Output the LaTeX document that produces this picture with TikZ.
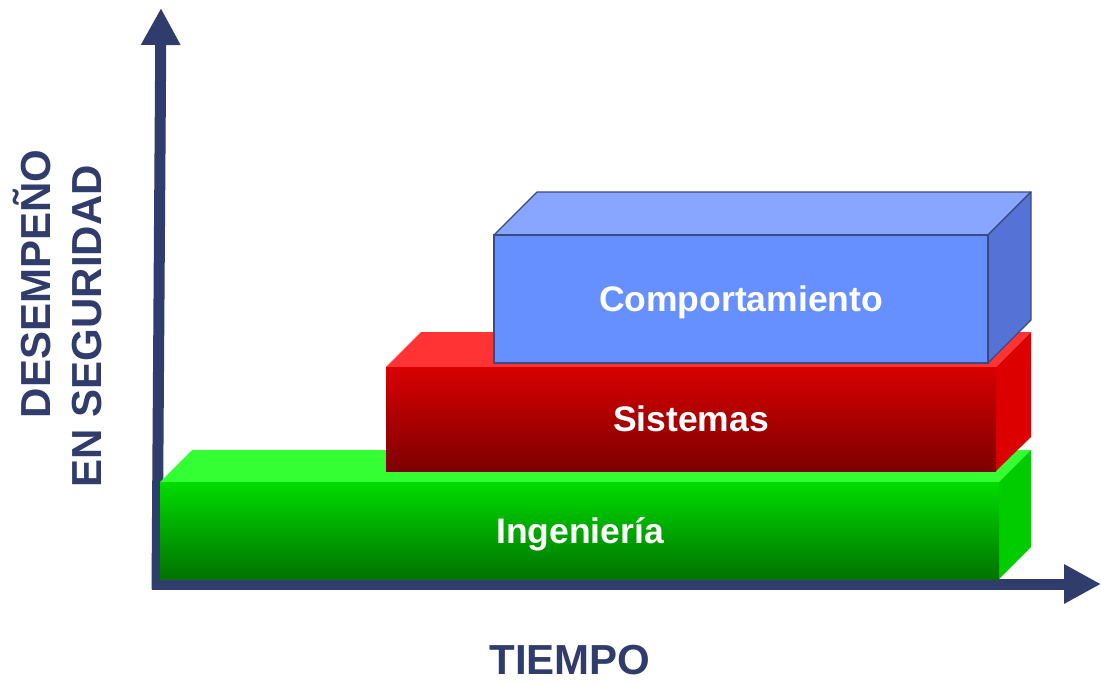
\documentclass[tikz,border=0pt]{standalone}
\usepackage{fontspec}
\setmainfont{Liberation Sans}
\usetikzlibrary{arrows.meta}
\definecolor{navy}{HTML}{2F3C6C}
\definecolor{gtop}{HTML}{33FF33}
\definecolor{gfrontA}{HTML}{00DD00}
\definecolor{gfrontB}{HTML}{007200}
\definecolor{gside}{HTML}{00CC00}
\definecolor{rtop}{HTML}{FF3333}
\definecolor{rfrontA}{HTML}{D80000}
\definecolor{rfrontB}{HTML}{7E0000}
\definecolor{rside}{HTML}{DD0000}
\definecolor{btop}{HTML}{88A6FF}
\definecolor{bfront}{HTML}{6690FF}
\definecolor{bside}{HTML}{5573D6}
\definecolor{bline}{HTML}{3A4A80}
\tikzset{
  axis/.style={draw=navy, line width=11pt, -{Triangle[length=37pt,width=37pt]}},
  boxlabel/.style={text=white, font=\bfseries\fontsize{35.5}{40}\selectfont, anchor=base, inner sep=0pt},
  axislabel/.style={text=navy, font=\bfseries\fontsize{42}{46}\selectfont, anchor=base, inner sep=0pt},
}
\begin{document}
\begin{tikzpicture}[x=1pt,y=-1pt]
\useasboundingbox (0,0) rectangle (1101,681);
% axes
\coordinate (origin) at (157,589.5);
\coordinate (ytip) at (161,8);
\coordinate (hstart) at (151.5,584);
\coordinate (xtip) at (1101,584);
\draw[axis] (origin) -- (ytip);
\draw[axis] (hstart) -- (xtip);
% green box
\fill[gtop] (160,482) -- (192,450) -- (1031,450) -- (999,482) -- cycle;
\fill[gside] (999,482) -- (1031,450) -- (1031,547) -- (999,579) -- cycle;
\shade[top color=gfrontA, bottom color=gfrontB] (160,482) rectangle (999,579);
% red box
\fill[rtop] (386,367) -- (421,332) -- (1031,332) -- (996,367) -- cycle;
\fill[rside] (996,367) -- (1031,332) -- (1031,437) -- (996,471) -- cycle;
\shade[top color=rfrontA, bottom color=rfrontB] (386,367) rectangle (996,471);
% blue box
\filldraw[fill=btop, draw=bline, line width=1.2pt, line join=round] (494,235) -- (537,192) -- (1031,192) -- (988,235) -- cycle;
\filldraw[fill=bside, draw=bline, line width=1.2pt, line join=round] (988,235) -- (1031,192) -- (1031,320) -- (988,363) -- cycle;
\filldraw[fill=bfront, draw=bline, line width=1.2pt] (494,235) rectangle (988,363);
% labels
\node[boxlabel] (ing) at (580,543) {Ingeniería};
\node[boxlabel] (sis) at (691,431) {Sistemas};
\node[boxlabel] (comp) at (741,311) {Comportamiento};
\node[axislabel] (tiempo) at (570,674) {TIEMPO};
\node[axislabel, rotate=90] (desem) at (50,284) {DESEMPEÑO};
\node[axislabel, rotate=90] (seg) at (101,326) {EN SEGURIDAD};
\end{tikzpicture}
\end{document}
